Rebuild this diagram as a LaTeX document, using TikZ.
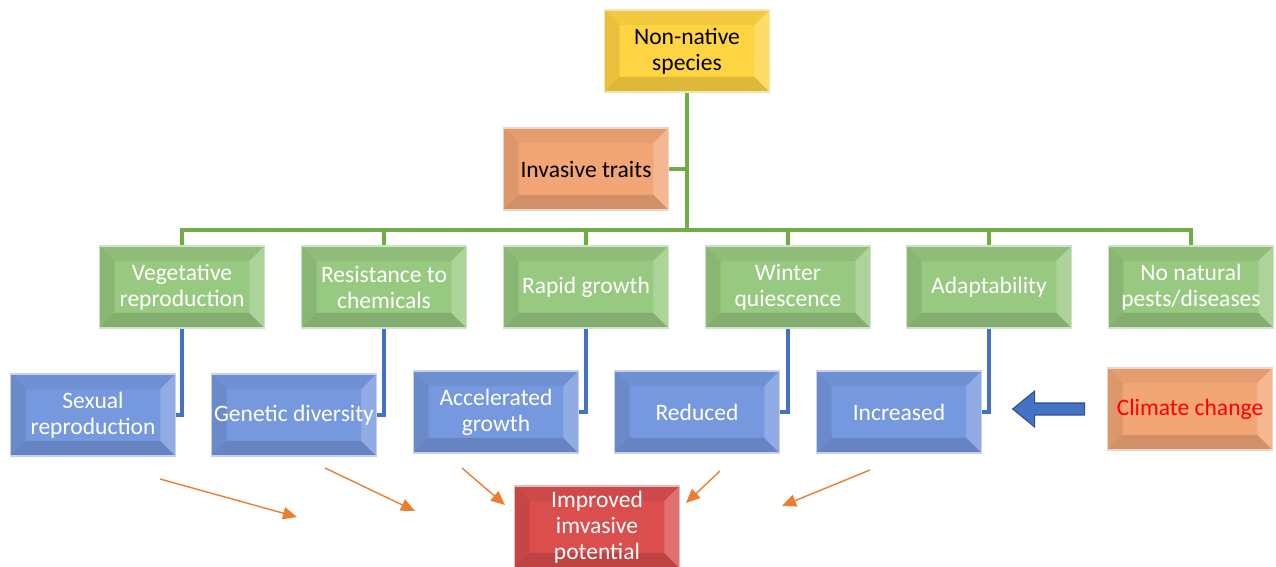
\documentclass[tikz,border=0pt]{standalone}
\usepackage{fontspec}
\setmainfont{Carlito}
\usetikzlibrary{calc,arrows.meta}
\definecolor{traitgreen}{RGB}{112,173,71}
\definecolor{linkblue}{RGB}{68,114,196}
\definecolor{arrowo}{RGB}{237,125,49}
\definecolor{boxy}{RGB}{255,212,66}
\definecolor{boxo}{RGB}{242,166,118}
\definecolor{boxg}{RGB}{152,201,128}
\definecolor{boxb}{RGB}{118,152,222}
\definecolor{boxr}{RGB}{218,78,78}

\tikzset{
  box/.style={draw=#1!35!white!90!gray, line width=1pt, fill=#1,
    minimum width=3.3cm, minimum height=1.64cm, inner sep=1pt,
    align=center, font=\fontsize{13.4}{14.8}\selectfont,
    path picture={
      \coordinate (sw) at (path picture bounding box.south west);
      \coordinate (ne) at (path picture bounding box.north east);
      \coordinate (nw) at (sw |- ne);
      \coordinate (se) at (ne |- sw);
      % bevelled edges
      \fill[black, opacity=.05] (nw) -- (ne) -- ($(ne)+(-.3cm,-.3cm)$) -- ($(nw)+(.3cm,-.3cm)$) -- cycle;
      \fill[black, opacity=.09] (nw) -- (sw) -- ($(sw)+(.3cm,.3cm)$) -- ($(nw)+(.3cm,-.3cm)$) -- cycle;
      \fill[black, opacity=.13] (sw) -- (se) -- ($(se)+(-.3cm,.3cm)$) -- ($(sw)+(.3cm,.3cm)$) -- cycle;
      \fill[white, opacity=.2] (se) -- (ne) -- ($(ne)+(-.3cm,-.3cm)$) -- ($(se)+(-.3cm,.3cm)$) -- cycle;
    }},
  trunk/.style={draw=traitgreen, line width=2pt},
  link/.style={draw=linkblue, line width=1.9pt},
  push/.style={draw=arrowo, line width=.8pt, -{Triangle[length=8pt,width=7pt]}},
}

\begin{document}
\begin{tikzpicture}[x=0.02cm, y=-0.02cm]
  \useasboundingbox (0,0) rectangle (1276,567);

  % top of the tree
  \node[box=boxy] (native) at (687,51) {Non-native\\species};
  \node[box=boxo] (traits) at (586,169) {Invasive traits};

  % traits
  \node[box=boxg, text=white] (veg) at (182,287) {Vegetative\\reproduction};
  \node[box=boxg, text=white] (res) at (384,287) {Resistance to\\chemicals};
  \node[box=boxg, text=white] (rapid) at (586,287) {Rapid growth};
  \node[box=boxg, text=white] (winter) at (788,287) {Winter\\quiescence};
  \node[box=boxg, text=white] (adapt) at (989,287) {Adaptability};
  \node[box=boxg, text=white] (pests) at (1191,287) {No natural\\pests/diseases};

  % consequences
  \node[box=boxb, text=white] (sexual) at (93,415) {Sexual\\reproduction};
  \node[box=boxb, text=white] (genetic) at (294,415) {Genetic diversity};
  \node[box=boxb, text=white] (accel) at (496,412) {Accelerated\\growth};
  \node[box=boxb, text=white] (reduced) at (697,412) {Reduced};
  \node[box=boxb, text=white] (increased) at (899,412) {Increased};
  \node[box=boxo, text=red] (climate) at (1190,409) {Climate change};

  \node[box=boxr, text=white] (potential) at (597,527) {Improved\\imvasive\\potential};

  % green tree
  \coordinate (bus) at (687,230);
  \draw[trunk] (native) -- (bus);
  \draw[trunk] (traits.east) -- (traits.east -| native);
  \draw[trunk] (veg.north) -- (veg.north |- bus) -- (pests.north |- bus) -- (pests.north);
  \foreach \n in {res,rapid,winter,adapt}
    \draw[trunk] (\n.north) -- (\n.north |- bus);

  % blue links
  \draw[link] (veg.south) |- (sexual.east);
  \draw[link] (res.south) |- (genetic.east);
  \draw[link] (rapid.south) |- (accel.east);
  \draw[link] (winter.south) |- (reduced.east);
  \draw[link] (adapt.south) |- (increased.east);

  % block arrow
  \filldraw[fill=linkblue, draw=linkblue!70!black, line width=.6pt]
    ($(climate.west)+(-22,-6)$) -- ($(climate.west)+(-72,-6)$) -- ($(climate.west)+(-72,-18)$)
    -- ($(climate.west)+(-94,0)$) -- ($(climate.west)+(-72,18)$) -- ($(climate.west)+(-72,6)$)
    -- ($(climate.west)+(-22,6)$) -- cycle;

  % orange arrows
  \coordinate (a1) at (160,479);  \coordinate (b1) at (297,517);
  \coordinate (a2) at (325,468);  \coordinate (b2) at (415,511);
  \coordinate (a3) at (462,468);  \coordinate (b3) at (505,505);
  \coordinate (a4) at (720,471);  \coordinate (b4) at (686,503);
  \coordinate (a5) at (870,470);  \coordinate (b5) at (782,506);
  \foreach \i in {1,...,5}
    \draw[push] (a\i) -- (b\i);
\end{tikzpicture}
\end{document}
